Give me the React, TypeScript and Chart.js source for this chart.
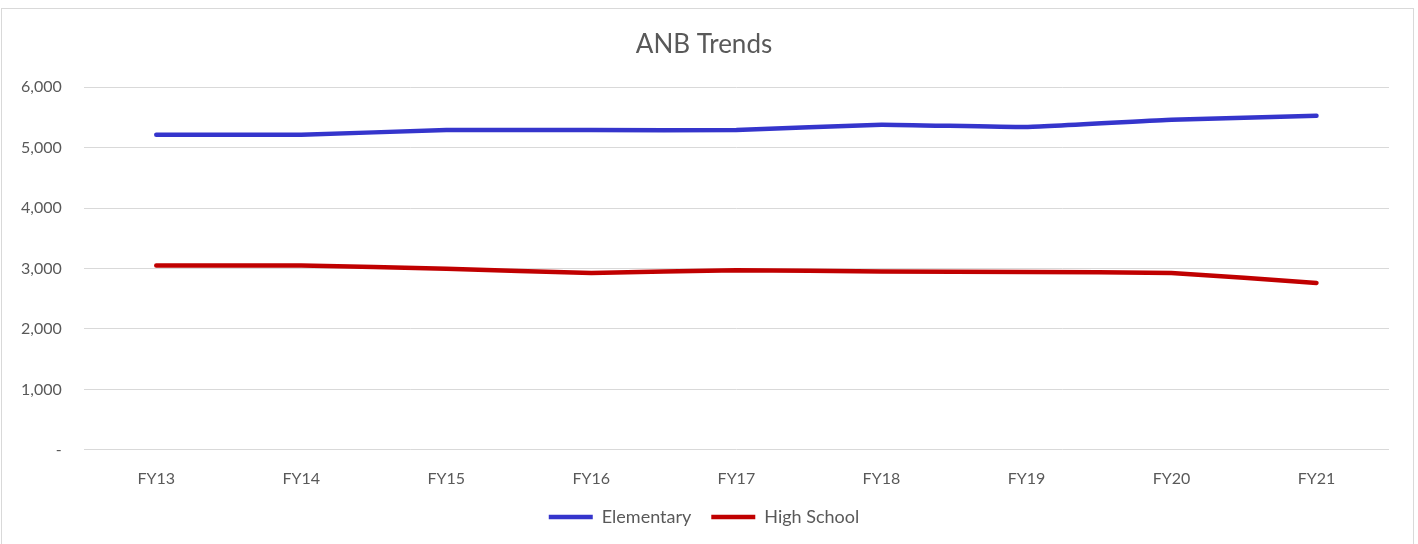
import React, { useEffect, useRef } from "react";
import { Chart, registerables } from "chart.js";

Chart.register(...registerables);

const categories = ["FY13", "FY14", "FY15", "FY16", "FY17", "FY18", "FY19", "FY20", "FY21"];
const elementary = [5215, 5215, 5290, 5290, 5290, 5380, 5340, 5460, 5528];
const highSchool = [3050, 3050, 2995, 2927, 2972, 2950, 2944, 2927, 2762];
const yTicks = [0, 1000, 2000, 3000, 4000, 5000, 6000];

const FONT = "Lato, 'Open Sans', sans-serif";
const TEXT = "#595959";

export default function App() {
  const ref = useRef<HTMLCanvasElement | null>(null);

  useEffect(() => {
    if (!ref.current) return;
    const chart = new Chart(ref.current, {
      type: "line",
      data: {
        labels: categories,
        datasets: [
          {
            label: "Elementary",
            data: elementary,
            borderColor: "#3535CC",
            backgroundColor: "#3535CC",
            borderWidth: 4.5,
            pointRadius: 0,
            borderCapStyle: "round",
            tension: 0.1,
          },
          {
            label: "High School",
            data: highSchool,
            borderColor: "#C00000",
            backgroundColor: "#C00000",
            borderWidth: 4.5,
            pointRadius: 0,
            borderCapStyle: "round",
            tension: 0.1,
          },
        ],
      },
      options: {
        animation: false,
        responsive: false,
        maintainAspectRatio: false,
        layout: { padding: { left: 17, right: 24, top: 0, bottom: 11 } },
        plugins: {
          title: {
            display: true,
            text: "ANB Trends",
            color: TEXT,
            font: { family: FONT, size: 26, weight: "normal" },
            padding: { top: 20, bottom: 27 },
          },
          legend: {
            position: "bottom",
            labels: {
              usePointStyle: true,
              pointStyle: "line",
              pointStyleWidth: 44,
              color: TEXT,
              font: { family: FONT, size: 18 },
              padding: 20,
            },
          },
          tooltip: { enabled: false },
        },
        scales: {
          x: {
            offset: true,
            grid: { display: false, drawTicks: false },
            border: { display: false },
            ticks: { color: TEXT, font: { family: FONT, size: 16 }, padding: 19 },
            afterFit: (axis: any) => {
              axis.height -= 19;
            },
          },
          y: {
            min: 0,
            max: 6000,
            afterBuildTicks: (axis: any) => {
              axis.ticks = yTicks.map((v) => ({ value: v }));
            },
            afterFit: (axis: any) => {
              axis.width -= 20;
            },
            grid: { color: "#d9d9d9", drawTicks: false, lineWidth: 1 },
            border: { display: false },
            ticks: {
              color: TEXT,
              font: { family: FONT, size: 16 },
              padding: 22,
              callback: (v: any) => (Number(v) === 0 ? "-" : Number(v).toLocaleString("en-US")),
            },
          },
        },
      },
    });
    return () => chart.destroy();
  }, []);

  return (
    <div
      style={{
        position: "absolute",
        left: 1,
        top: 8,
        width: 1413,
        height: 540,
        border: "1px solid #d9d9d9",
        boxSizing: "border-box",
        background: "#fff",
      }}
    >
      <canvas ref={ref} width={1411} height={538} style={{ display: "block" }} />
    </div>
  );
}
